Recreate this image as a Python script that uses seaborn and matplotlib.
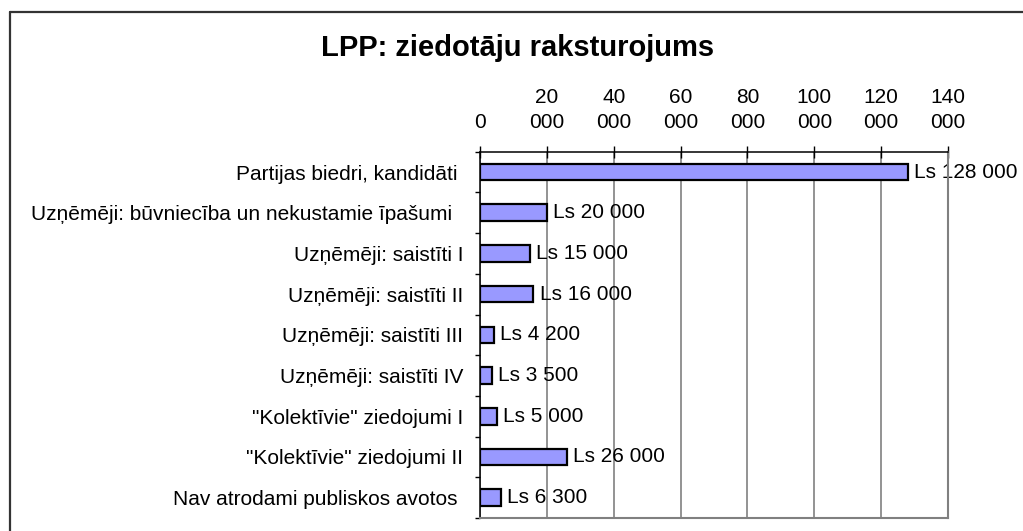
import matplotlib
matplotlib.use("Agg")
import matplotlib.pyplot as plt
from matplotlib.lines import Line2D
from matplotlib.ticker import FixedLocator, FuncFormatter
import seaborn as sns
import numpy as np

title = "LPP: ziedotāju raksturojums"
categories = [
    "Partijas biedri, kandidāti ",
    "Uzņēmēji: būvniecība un nekustamie īpašumi  ",
    "Uzņēmēji: saistīti I",
    "Uzņēmēji: saistīti II",
    "Uzņēmēji: saistīti III",
    "Uzņēmēji: saistīti IV",
    "\"Kolektīvie\" ziedojumi I",
    "\"Kolektīvie\" ziedojumi II",
    "Nav atrodami publiskos avotos ",
]
values = [128000, 20000, 15000, 16000, 4200, 3500, 5000, 26000, 6300]
x_ticks = [0, 20000, 40000, 60000, 80000, 100000, 120000, 140000]


def fmt_space(v):
    return f"{int(v):,}".replace(",", " ")


bar_labels = ["Ls " + fmt_space(v) for v in values]

sns.set_style("white")
plt.rcParams["font.family"] = ["Liberation Sans", "DejaVu Sans"]
plt.rcParams["text.color"] = "black"
plt.rcParams["axes.labelcolor"] = "black"
plt.rcParams["xtick.color"] = "black"
plt.rcParams["ytick.color"] = "black"

W, H = 1023, 531
fig = plt.figure(figsize=(W / 100, H / 100), dpi=100)
ax = fig.add_axes([480 / W, 1 - 518 / H, (948 - 480) / W, (518 - 151.7) / H])

sns.barplot(x=values, y=categories, orient="h", color="#9999FF", saturation=1,
            edgecolor="black", linewidth=1.6, width=0.41, ax=ax, zorder=3)

ax.set_xlim(0, 140000)
ax.set_ylim(len(categories) - 0.5, -0.5)
ax.set_xlabel("")
ax.set_ylabel("")

# x axis on top
ax.xaxis.tick_top()
ax.xaxis.set_major_locator(FixedLocator(x_ticks))
ax.xaxis.set_major_formatter(FuncFormatter(lambda v, p: fmt_space(v).replace(" ", "\n")))
ax.tick_params(axis="x", which="major", direction="inout", length=8, width=1.0,
               color="black", labelcolor="black", pad=10, labelsize=15,
               top=True, bottom=False)
for lab in ax.get_xticklabels():
    lab.set_linespacing(1.45)

# y axis: labels at centres, ticks at boundaries
ax.tick_params(axis="y", which="major", length=0, pad=12, labelsize=15, left=True,
               labelcolor="black")
ax.yaxis.set_minor_locator(FixedLocator(np.arange(-0.5, len(categories), 1.0)))
ax.tick_params(axis="y", which="minor", direction="out", length=3.8, width=1.0,
               color="black", left=True)

ax.set_axisbelow(True)
ax.xaxis.grid(True, color="#808080", linewidth=1.2)
ax.yaxis.grid(False)

for side in ["top", "left"]:
    ax.spines[side].set_color("black")
    ax.spines[side].set_linewidth(1.1)
    ax.spines[side].set_visible(True)
for side in ["right", "bottom"]:
    ax.spines[side].set_color("#808080")
    ax.spines[side].set_linewidth(1.5)
    ax.spines[side].set_visible(True)
for s in ax.spines.values():
    s.set_zorder(4)

ax.bar_label(ax.containers[0], labels=bar_labels, padding=4.5, fontsize=15,
             color="black", clip_on=False)

fig.text(517.5 / W, 1 - 48 / H, title, ha="center", va="center",
         fontsize=21, fontweight="bold", color="black")

# outer chart border (left and top visible)
fig.add_artist(Line2D([9.5 / W, 9.5 / W], [1 - 11.5 / H, -0.05], color="#333333",
                      linewidth=1.6, transform=fig.transFigure))
fig.add_artist(Line2D([9.5 / W, 1.05], [1 - 11.5 / H, 1 - 11.5 / H], color="#333333",
                      linewidth=1.6, transform=fig.transFigure))

fig.savefig("out.png", dpi=100)
